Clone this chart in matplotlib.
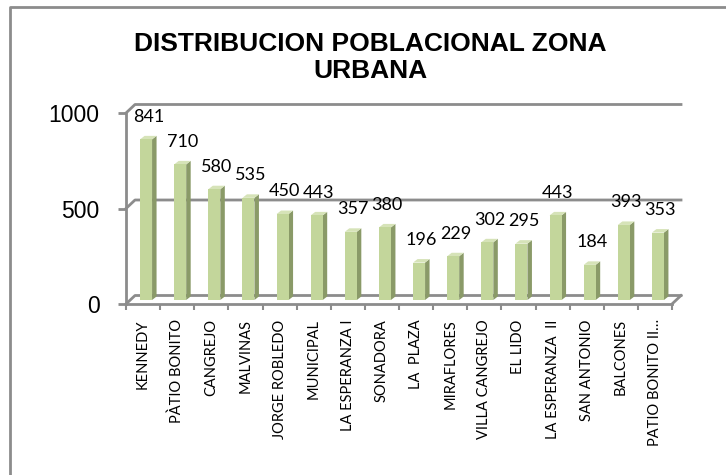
import matplotlib
matplotlib.use('Agg')
import matplotlib.pyplot as plt
from matplotlib.patches import Polygon
from matplotlib.lines import Line2D
import numpy as np

categories = ["KENNEDY", "PÀTIO BONITO", "CANGREJO", "MALVINAS", "JORGE ROBLEDO",
              "MUNICIPAL", "LA ESPERANZA I", "SONADORA", "LA  PLAZA", "MIRAFLORES",
              "VILLA CANGREJO", "EL LIDO", "LA ESPERANZA  II", "SAN ANTONIO",
              "BALCONES", "PATIO BONITO II\u2026"]
values = [841, 710, 580, 535, 450, 443, 357, 380, 196, 229, 302, 295, 443, 184, 393, 353]
y_ticks = [0, 500, 1000]
title = "DISTRIBUCION POBLACIONAL ZONA\nURBANA"

FACE = "#C3D69B"
SIDE = "#8A9A68"
TOP = "#D6E3B8"
GRID = "#8C8C8C"

fig = plt.figure(figsize=(7.26, 4.75), dpi=100)
ax = fig.add_axes([126 / 726, 1 - 304 / 475, 546 / 726, 191 / 475])
n = len(categories)
ax.set_xlim(-0.5, n - 0.5)
ax.set_ylim(0, 1000)

# pixel -> data unit conversions from the axes transform
p0 = ax.transData.transform((0, 0))
p1 = ax.transData.transform((1, 1))
ux = 1.0 / (p1[0] - p0[0])
uy = 1.0 / (p1[1] - p0[1])

# full depth of the 3D box (pixels)
DX, DY = 9 * ux, 8.5 * uy
# bar placement (mid depth) and bar depth
MX, MY = 3 * ux, 4 * uy
BW = 12 * ux
SX, SY = 4.5 * ux, 3.5 * uy

x = np.arange(n)
x0, x1 = -0.5, n - 0.5

# back wall gridlines and floor
for g in y_ticks:
    ax.add_line(Line2D([x0, x0 + DX, x1 + DX], [g, g + DY, g + DY],
                       color=GRID, lw=2, zorder=1, clip_on=False))
ax.add_line(Line2D([x1, x1 + DX], [0, DY], color=GRID, lw=2, zorder=1, clip_on=False))

# bars
for xi, v in zip(x, values):
    L = xi - BW / 2 + MX
    R = xi + BW / 2 + MX
    b = MY
    t = v + MY
    ax.add_patch(Polygon([[R, b], [R + SX, b + SY], [R + SX, t + SY], [R, t]],
                         closed=True, facecolor=SIDE, edgecolor='none', zorder=3, clip_on=False))
    ax.add_patch(Polygon([[L, t], [R, t], [R + SX, t + SY], [L + SX, t + SY]],
                         closed=True, facecolor=TOP, edgecolor='none', zorder=3, clip_on=False))
    ax.add_patch(Polygon([[L, b], [R, b], [R, t], [L, t]],
                         closed=True, facecolor=FACE, edgecolor='none', zorder=4, clip_on=False))
    ax.annotate(str(v), (xi + MX + SX / 2, t + SY), xytext=(0, 8), textcoords='offset points',
                ha='center', va='bottom', fontsize=13, family=['Lato', 'DejaVu Sans'],
                zorder=6, annotation_clip=False)

# axes styling
for s in ['top', 'right']:
    ax.spines[s].set_visible(False)
for s in ['left', 'bottom']:
    ax.spines[s].set_color(GRID)
    ax.spines[s].set_linewidth(2)
ax.patch.set_visible(False)

ax.set_yticks(y_ticks)
ax.set_yticklabels([str(t) for t in y_ticks], fontsize=16.5, family='Liberation Sans')
ax.tick_params(axis='y', length=6, width=2, color=GRID, pad=13)

ax.set_xticks(x)
ax.set_xticklabels(categories, rotation=90, fontsize=10.5, family=['Lato', 'DejaVu Sans'],
                   va='top', ha='center')
ax.tick_params(axis='x', which='major', length=0, pad=11)
ax.set_xticks(np.arange(n + 1) - 0.5, minor=True)
ax.tick_params(axis='x', which='minor', length=4, width=1.5, color=GRID)

fig.text(370 / 726, 1 - 57.5 / 475, title, ha='center', va='center', fontsize=19,
         fontweight='bold', family='Liberation Sans', linespacing=1.15)

# chart border
fig.add_artist(Line2D([10 / 726, 10 / 726, 1.0], [0.0, 1 - 7 / 475, 1 - 7 / 475],
                      transform=fig.transFigure, color=GRID, lw=2))

fig.savefig("out.png", dpi=100)
